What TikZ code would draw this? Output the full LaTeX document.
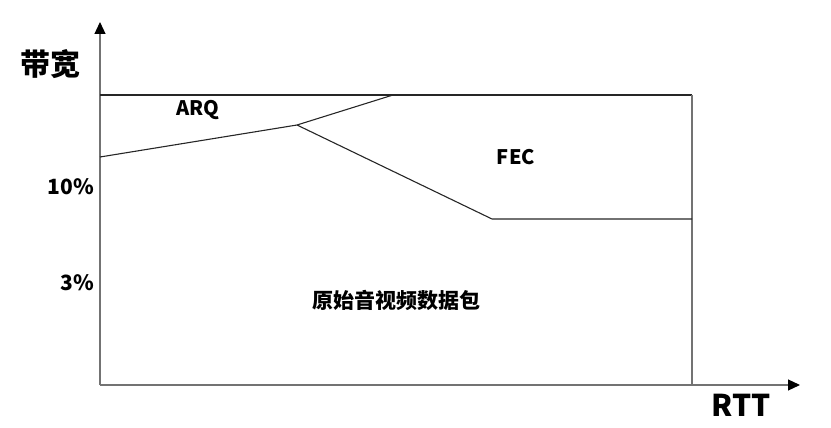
\documentclass[tikz,border=0pt]{standalone}
\usepackage{fontspec}
\setmainfont{Noto Sans CJK SC}
\usetikzlibrary{arrows.meta}

\begin{document}
\begin{tikzpicture}[
 x=1pt,y=-1pt,
 axis/.style={draw=black!55,line width=1.2pt,-{Triangle[length=12pt,width=11pt,color=black]}},
 edge/.style={draw=black!85,line width=1.1pt},
 side/.style={draw=black!55,line width=1.1pt},
 lbl/.style={font=\bfseries\fontsize{20}{20}\selectfont,inner sep=0pt}]
\useasboundingbox (0,0) rectangle (831,428);
\coordinate (o) at (100,385);
\coordinate (ytip) at (100,22);
\coordinate (xtip) at (800,385);
\coordinate (tl) at (100,95);
\coordinate (tr) at (692,95);
\coordinate (br) at (692,385);
\coordinate (arqstart) at (100,157);
\coordinate (split) at (297,125);
\coordinate (arqend) at (393,95);
\coordinate (fecknee) at (492,219);
\coordinate (fecend) at (692,219);
\draw[axis] (o)--(ytip);
\draw[axis] (o)--(xtip);
\draw[edge] (tl)--(tr);
\draw[side] (tr)--(br);
\draw[edge] (arqstart)--(split)--(arqend);
\draw[edge] (split)--(fecknee)--(fecend);
\node[lbl,font=\bfseries\fontsize{30}{30}\selectfont] (bw) at (50,64) {带宽};
\node[lbl,font=\bfseries\fontsize{30}{30}\selectfont] (rtt) at (741,405) {RTT};
\node[lbl,anchor=east,font=\bfseries\fontsize{21}{21}\selectfont] (p10) at (94,187) {10\%};
\node[lbl,anchor=east,font=\bfseries\fontsize{21}{21}\selectfont] (p3) at (94,283) {3\%};
\node[lbl] (arq) at (198,110) {ARQ};
\node[lbl] (fec) at (516,157) {FEC};
\node[lbl,font=\bfseries\fontsize{21}{21}\selectfont] (raw) at (396,300) {原始音视频数据包};
\end{tikzpicture}
\end{document}
